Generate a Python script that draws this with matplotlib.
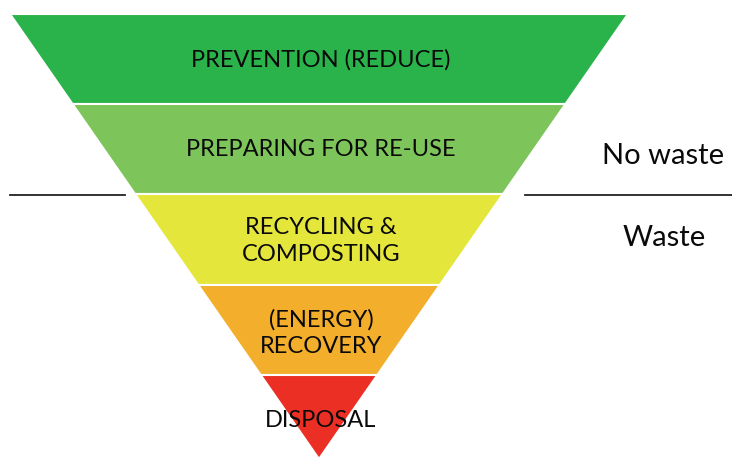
"""Waste hierarchy drawn as an inverted pyramid."""

import matplotlib.pyplot as plt
from matplotlib.patches import Polygon

plt.rcParams["font.family"] = ["Lato", "DejaVu Sans"]

# tiers from top to bottom
tiers = [
    "PREVENTION (REDUCE)",
    "PREPARING FOR RE-USE",
    "RECYCLING &\nCOMPOSTING",
    "(ENERGY)\nRECOVERY",
    "DISPOSAL",
]
tier_colors = ["#2bb34b", "#7dc55a", "#e4e63c", "#f3ae2b", "#ec2f24"]
side_labels = ["No waste", "Waste"]

# layout in pixel units of the 732x460 canvas
top_y, apex_y = 15, 460
center_x, half_top = 319, 309
band_edges = [15, 105, 195, 286, 376, 460]
text_y = [60, 150, 241, 333, 421]
divider_y = 196


def half_width(y):
    return half_top * (apex_y - y) / (apex_y - top_y)


fig = plt.figure(figsize=(7.32, 4.6), dpi=100)
ax = fig.add_axes([0, 0, 1, 1])
ax.set_xlim(0, 732)
ax.set_ylim(460, 0)
ax.axis("off")

for i, (label, color) in enumerate(zip(tiers, tier_colors)):
    y0, y1 = band_edges[i], band_edges[i + 1]
    w0, w1 = half_width(y0), half_width(y1)
    pts = [
        (center_x - w0, y0),
        (center_x + w0, y0),
        (center_x + w1, y1),
        (center_x - w1, y1),
    ]
    ax.add_patch(Polygon(pts, closed=True, facecolor=color,
                         edgecolor="white", linewidth=1.5))
    ax.text(center_x + 2, text_y[i], label, ha="center", va="center",
            fontsize=17, color="#0a0a0a", linespacing=1.3)

# divider between "no waste" and "waste"
ax.plot([10, 125], [divider_y, divider_y], color="#222222", lw=1.3)
ax.plot([525, 732], [divider_y, divider_y], color="#222222", lw=1.3)
ax.text(663, 156, side_labels[0], ha="center", va="center",
        fontsize=21, color="#0a0a0a")
ax.text(664, 238, side_labels[1], ha="center", va="center",
        fontsize=21, color="#0a0a0a")

fig.savefig("out.png", dpi=100)
